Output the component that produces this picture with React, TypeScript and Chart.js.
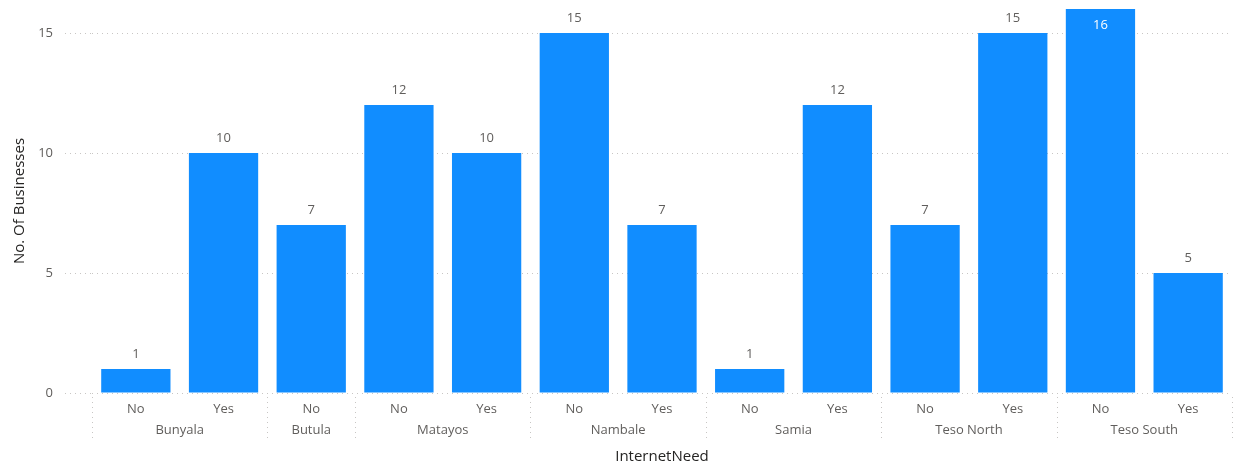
import React, { useEffect, useRef } from "react";
import { Chart, registerables } from "chart.js";

Chart.register(...registerables);

const districts = ["Bunyala", "Bunyala", "Butula", "Matayos", "Matayos", "Nambale", "Nambale", "Samia", "Samia", "Teso North", "Teso North", "Teso South", "Teso South"];
const internetNeed = ["No", "Yes", "No", "No", "Yes", "No", "Yes", "No", "Yes", "No", "Yes", "No", "Yes"];
const businesses = [1, 10, 7, 12, 10, 15, 7, 1, 12, 7, 15, 16, 5];
const yTicks = [0, 5, 10, 15];
const yMax = 16;

const FONT = "'Segoe UI', 'Open Sans', sans-serif";
const BAR = "#118DFF";
const GRID = "#C8C6C4";
const TEXT = "#605E5C";
const TITLE = "#252423";

const groupPlugin = {
  id: "groupLabels",
  afterDraw(chart: any) {
    const ctx = chart.ctx;
    const x = chart.scales.x;
    const area = chart.chartArea;
    const n = districts.length;
    const half = n > 1 ? (x.getPixelForValue(1) - x.getPixelForValue(0)) / 2 : 0;
    ctx.save();
    const bounds: number[] = [];
    for (let i = 0; i < n; i++) {
      if (i === 0 || districts[i] !== districts[i - 1]) bounds.push(x.getPixelForValue(i) - half);
    }
    bounds.push(x.getPixelForValue(n - 1) + half);
    ctx.strokeStyle = GRID;
    ctx.lineWidth = 1;
    ctx.setLineDash([1, 4]);
    for (const b of bounds) {
      const px = Math.round(b) + 0.5;
      ctx.beginPath();
      ctx.moveTo(px, area.bottom + 4);
      ctx.lineTo(px, area.bottom + 49);
      ctx.stroke();
    }
    ctx.setLineDash([]);
    ctx.fillStyle = TEXT;
    ctx.font = `13px ${FONT}`;
    ctx.textAlign = "center";
    ctx.textBaseline = "middle";
    let start = 0;
    for (let i = 1; i <= n; i++) {
      if (i === n || districts[i] !== districts[start]) {
        const cx = (x.getPixelForValue(start) + x.getPixelForValue(i - 1)) / 2;
        ctx.fillText(districts[start], cx, area.bottom + 37);
        start = i;
      }
    }
    const meta = chart.getDatasetMeta(0);
    meta.data.forEach((bar: any, i: number) => {
      const v = businesses[i];
      ctx.textBaseline = "middle";
      if (bar.y - 22 < area.top) {
        ctx.fillStyle = "#FFFFFF";
        ctx.fillText(String(v), bar.x, bar.y + 16);
      } else {
        ctx.fillStyle = TEXT;
        ctx.fillText(String(v), bar.x, bar.y - 15);
      }
    });
    ctx.restore();
  },
};

export default function App() {
  const ref = useRef<HTMLCanvasElement>(null);
  useEffect(() => {
    document.body.style.margin = "0";
    const chart = new Chart(ref.current!, {
      type: "bar",
      data: {
        labels: internetNeed,
        datasets: [
          {
            data: businesses,
            backgroundColor: BAR,
            borderWidth: 0,
            categoryPercentage: 1,
            barPercentage: 0.79,
          },
        ],
      },
      options: {
        responsive: false,
        animation: false,
        layout: { padding: { top: 9, right: 7, left: 0, bottom: 0 } },
        plugins: { legend: { display: false }, tooltip: { enabled: false } },
        scales: {
          x: {
            grid: { display: false, drawTicks: false },
            border: { display: false },
            ticks: { color: TEXT, font: { family: FONT, size: 13 }, padding: 8, maxRotation: 0, autoSkip: false },
            title: { display: true, text: "InternetNeed", color: TITLE, font: { family: FONT, size: 15 }, padding: { top: 0, bottom: 4 } },
            afterFit: (s: any) => {
              s.height = 77;
              s.paddingLeft = 0;
              s.paddingRight = 0;
            },
          },
          y: {
            min: 0,
            max: yMax,
            afterBuildTicks: (s: any) => { s.ticks = yTicks.map((v) => ({ value: v })); },
            grid: {
              color: GRID,
              lineWidth: 1,
              drawTicks: true,
              tickLength: 27,
              tickColor: GRID,
              tickBorderDash: [1, 4],
            } as any,
            border: { display: false, dash: [1, 4] },
            ticks: { color: TEXT, font: { family: FONT, size: 13 }, padding: 12 },
            title: { display: true, text: "No. Of Businesses", color: TITLE, font: { family: FONT, size: 15 }, padding: { top: 11, bottom: 0 } },
            afterFit: (s: any) => {
              s.width = 92;
              s.paddingTop = 0;
              s.paddingBottom = 0;
            },
          },
        },
      },
      plugins: [groupPlugin],
    } as any);
    return () => chart.destroy();
  }, []);
  return (
    <div style={{ width: 1239, height: 470 }}>
      <canvas ref={ref} width={1239} height={470} />
    </div>
  );
}
